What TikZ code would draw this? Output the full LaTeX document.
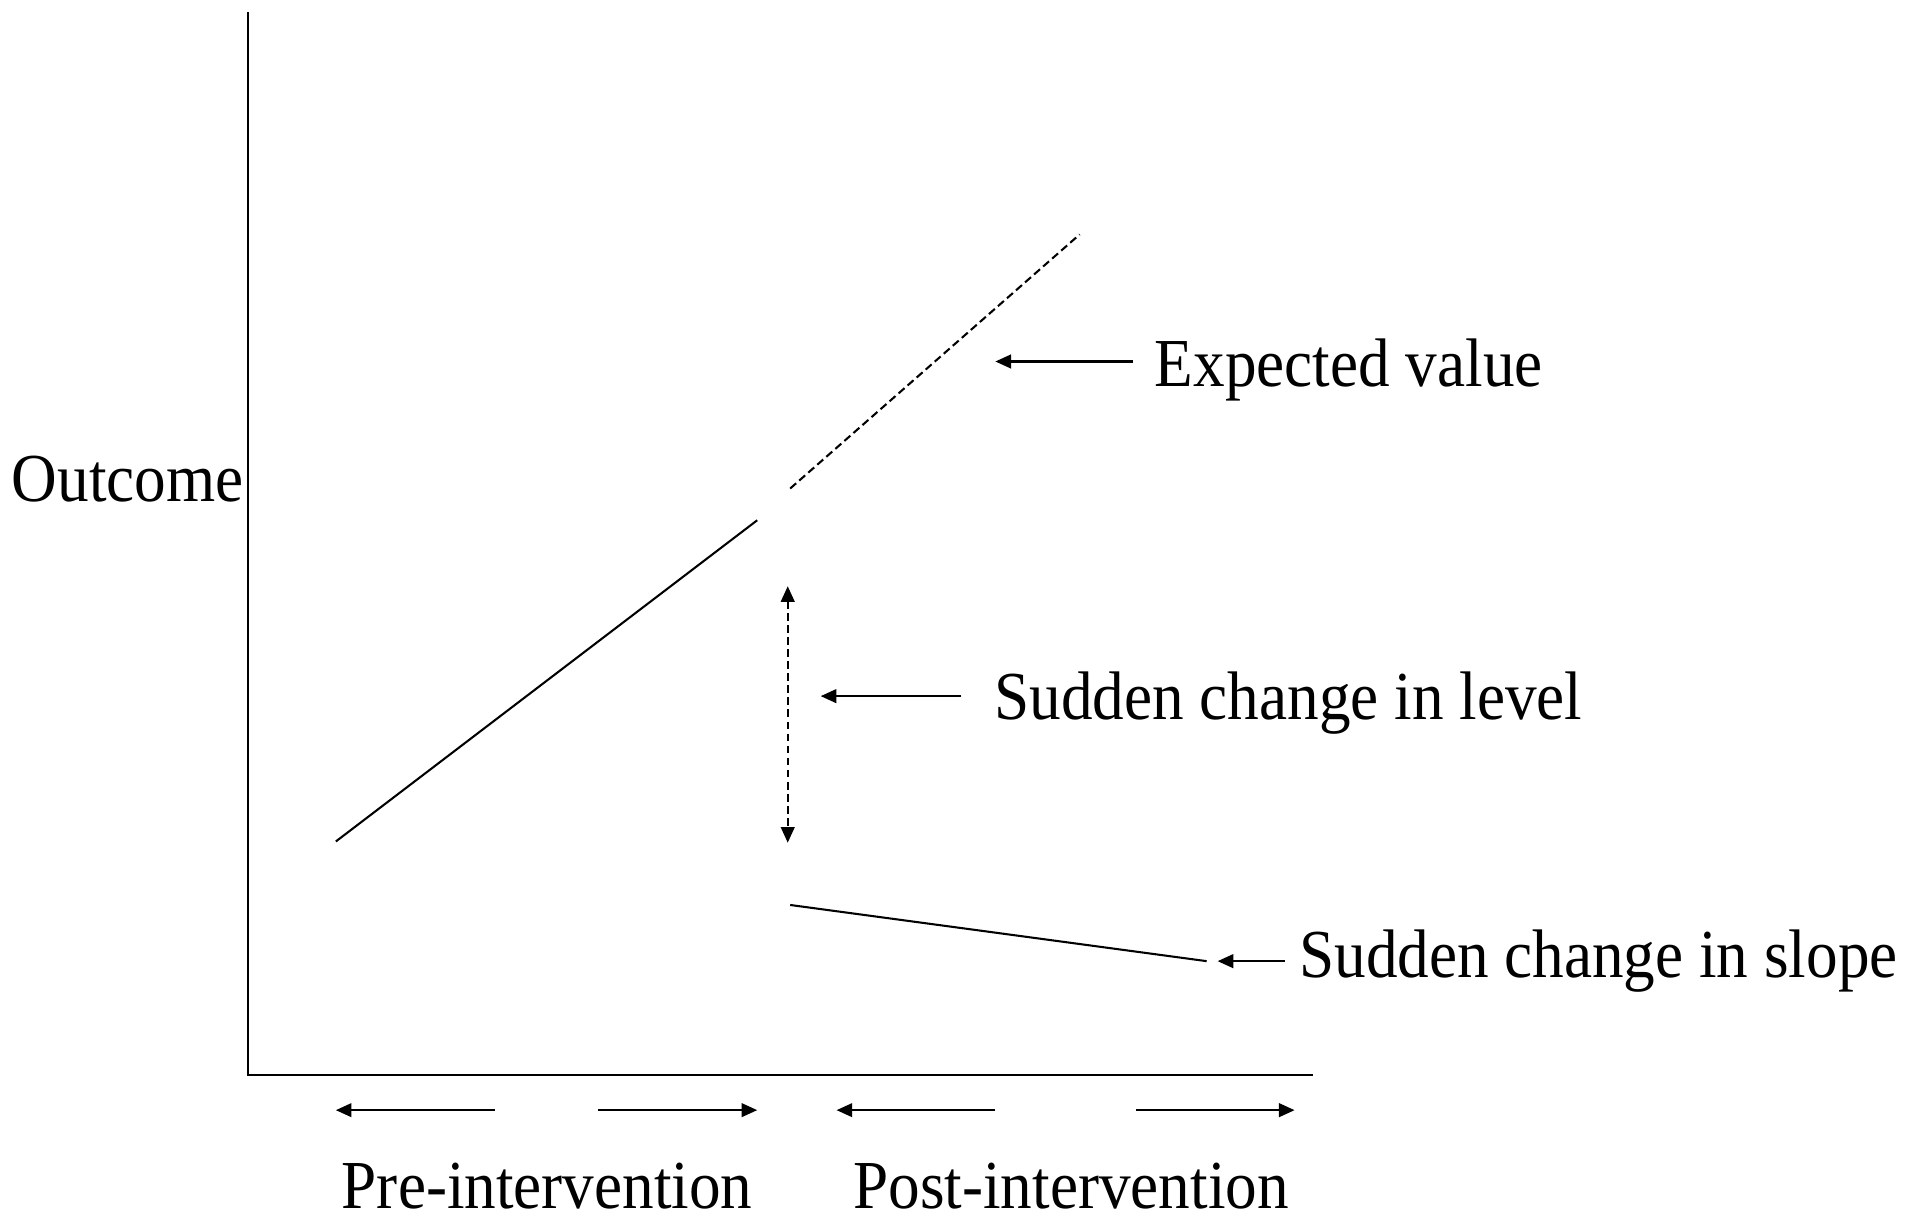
\documentclass[tikz,border=0pt]{standalone}
\usepackage{fontspec}
\setmainfont[FakeStretch=0.92]{Liberation Serif}
\usetikzlibrary{arrows.meta}
\tikzset{
  lbl/.style={font=\fontsize{20}{24}\selectfont},
  tip/.style={-{Triangle[length=1.6mm,width=1.4mm]}},
  dsh/.style={dash pattern=on 2.3pt off 1.2pt},
}
\begin{document}
\begin{tikzpicture}[line width=0.6pt]
\useasboundingbox (-2.5375,-1.475) rectangle (17.0625,11);

\draw (0,10.875)--(0,0)--(10.9,0);
\node[lbl,anchor=east,inner sep=1pt] (out) at (0,6.1) {Outcome};

% trend before, expected and after
\coordinate (pre0) at (0.9,2.3875);
\coordinate (pre1) at (5.2125,5.675);
\draw (pre0)--(pre1);
\coordinate (exp0) at (5.55,6.0);
\coordinate (exp1) at (8.5125,8.6);
\draw[dsh] (exp0)--(exp1);
\coordinate (post0) at (5.55,1.7375);
\coordinate (post1) at (9.8125,1.1625);
\draw (post0)--(post1);
\coordinate (jmp0) at (5.525,5.0);
\coordinate (jmp1) at (5.525,2.375);
\draw[dsh,{Triangle[length=1.6mm,width=1.4mm]}-{Triangle[length=1.6mm,width=1.4mm]}] (jmp0)--(jmp1);

\node[lbl,anchor=west,inner xsep=0.21cm] (ev) at (9.0625,7.21) {Expected value};
\coordinate (evtip) at (7.65,7.3);
\draw[tip] (evtip -| ev.west)--(evtip);

\node[lbl,anchor=west,inner xsep=0.33cm] (lvl) at (7.3,3.8) {Sudden change in level};
\coordinate (lvltip) at (5.8625,3.875);
\draw[tip] (lvltip -| lvl.west)--(lvltip);

\node[lbl,anchor=west,inner xsep=0.1375cm] (slp) at (10.6125,1.1625) {Sudden change in slope};
\coordinate (slptip) at (9.925,1.1625);
\draw[tip] (slp.west)--(slptip);

% periods
\node[lbl,inner ysep=0pt] (pre) at (3.0625,-1.14) {Pre-intervention};
\node[lbl,inner ysep=0pt] (post) at (8.425,-1.14) {Post-intervention};
\coordinate (preL) at (2.525,-0.3625);
\coordinate (preLt) at (0.9,-0.3625);
\coordinate (preR) at (3.5875,-0.3625);
\coordinate (preRt) at (5.2125,-0.3625);
\coordinate (postL) at (7.65,-0.3625);
\coordinate (postLt) at (6.025,-0.3625);
\coordinate (postR) at (9.0875,-0.3625);
\coordinate (postRt) at (10.7125,-0.3625);
\draw[tip] (preL)--(preLt);
\draw[tip] (preR)--(preRt);
\draw[tip] (postL)--(postLt);
\draw[tip] (postR)--(postRt);

\end{tikzpicture}
\end{document}
